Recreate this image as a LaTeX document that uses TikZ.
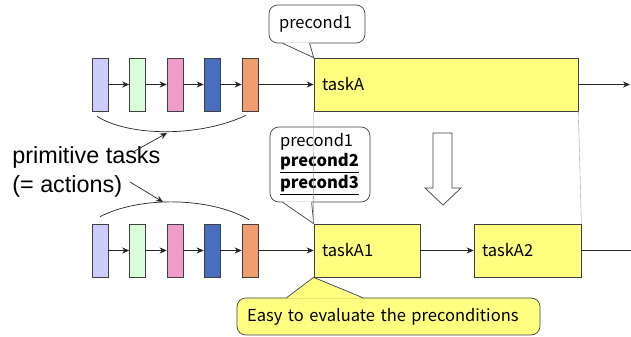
\documentclass[tikz,border=0pt]{standalone}
\usepackage{fontspec}
\setmainfont{Noto Sans CJK JP}
\newfontfamily\bigfont{Liberation Sans}
\usetikzlibrary{arrows.meta,calc}
\definecolor{taskyellow}{RGB}{255,255,128}
\definecolor{primA}{RGB}{204,204,255}
\definecolor{primB}{RGB}{217,255,217}
\definecolor{primC}{RGB}{240,156,200}
\definecolor{primD}{RGB}{74,110,190}
\definecolor{primE}{RGB}{240,156,110}
\begin{document}
\begin{tikzpicture}[x=0.02cm, y=-0.02cm,
    prim/.style={draw=black!75, minimum width=0.32cm, minimum height=1.06cm, inner sep=0pt},
    task/.style={draw=black!75, fill=taskyellow, minimum height=1.06cm, inner xsep=0.16cm, align=left, font=\fontsize{9.4}{11}\selectfont},
    note/.style={draw=black!75, rounded corners=5pt, fill=white, align=left, inner xsep=0.2cm, font=\fontsize{9.4}{11.3}\selectfont},
    link/.style={-{Stealth[length=4pt,width=3.5pt]}, black!85}]
  \useasboundingbox (0,0) rectangle (631,337);

  % primitive tasks, top and bottom rows
  \foreach \i/\x/\c in {1/100/primA, 2/137.5/primB, 3/175/primC, 4/212/primD, 5/250/primE} {
    \node[prim, fill=\c] (p\i) at (\x,84.5) {};
    \node[prim, fill=\c] (q\i) at (\x,250.5) {};
  }
  \foreach \i [count=\j from 2] in {1,...,4} {
    \draw[link] (p\i) -- (p\j);
    \draw[link] (q\i) -- (q\j);
  }

  % compound task and its refinement
  \node[task, text width=4.96cm] (taskA) at (446,84.5) {taskA};
  \node[task, text width=1.80cm] (taskA1) at (367,250.5) {taskA1};
  \node[task, text width=1.82cm] (taskA2) at (527.5,250.5) {taskA2};
  \coordinate (outA) at (630,84.5);
  \coordinate (outA2) at (631,250.5);
  \draw[link] (p5) -- (taskA);
  \draw[link] (taskA) -- (outA);
  \draw[link] (q5) -- (taskA1);
  \draw[link] (taskA1) -- (taskA2);
  \draw[black!85] (taskA2) -- (outA2);

  % big hollow arrow
  \draw[black!75, fill=white] (433,133) -- (452,133) -- (452,188) -- (461,188) -- (443,205) -- (425,188) -- (433,188) -- cycle;

  % label and braces
  \node[anchor=west, align=left, inner sep=0pt, font=\bigfont\fontsize{13.3}{16}\selectfont] (primtxt) at (12,172) {primitive tasks\\(= actions)};
  \draw[black!85] ($(p1.south)+(-3,5)$) .. controls (130,137) and (200,137) .. ($(p5.south)+(-4,4)$);
  \draw[black!85] ($(q1.north)+(0,-7)$) .. controls (140,196) and (210,197) .. ($(q5.north)+(-1,-4)$);
  \coordinate (topfrom) at (133,152);
  \coordinate (topmid) at (167,133);
  \coordinate (botfrom) at (130,182);
  \coordinate (botmid) at (163,202);
  \draw[link] (topfrom) -- (topmid);
  \draw[link] (botfrom) -- (botmid);

  % callouts
  \node[note, text width=1.52cm, minimum height=0.76cm] (pc1) at (317,24) {precond1};
  \fill[white] ($(pc1.south west)+(14,-1)$) -- (taskA.north west) -- ($(pc1.south west)+(41,-1)$) -- cycle;
  \draw[black!75] ($(pc1.south west)+(14,0)$) -- (taskA.north west) -- ($(pc1.south west)+(41,0)$);

  \node[note, text width=1.6cm, minimum height=1.5cm] (pc2) at (320,164.5) {precond1\\\underline{\textbf{precond2}}\\\underline{\textbf{precond3}}};
  \fill[white] ($(pc2.south west)+(13,-1)$) -- (taskA1.north west) -- ($(pc2.south west)+(42,-1)$) -- cycle;
  \draw[black!75] ($(pc2.south west)+(13,0)$) -- (taskA1.north west) -- ($(pc2.south west)+(42,0)$);

  \node[note, fill=taskyellow, text width=5.66cm, minimum height=0.74cm] (easy) at (388.5,316.5) {Easy to evaluate the preconditions};
  \fill[taskyellow] ($(easy.north west)+(50,1)$) -- (taskA1.south west) -- ($(easy.north west)+(126,1)$) -- cycle;
  \draw[black!75] ($(easy.north west)+(50,0)$) -- (taskA1.south west) -- ($(easy.north west)+(126,0)$);

  % refinement guides
  \draw[black!40, very thin] (taskA.south west) -- (taskA1.north west);
  \draw[black!40, very thin] (taskA.south east) -- (taskA2.north east);
\end{tikzpicture}
\end{document}
